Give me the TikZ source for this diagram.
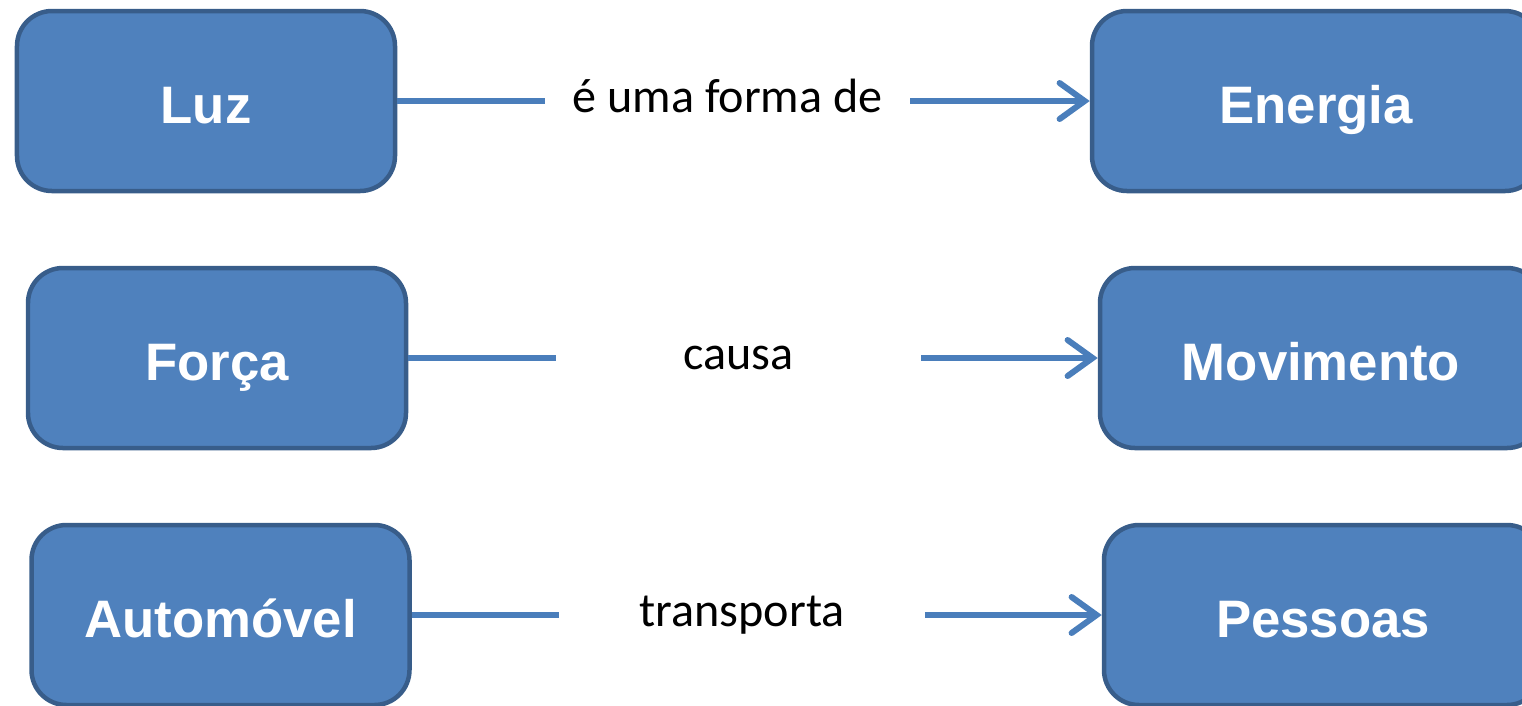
\documentclass[tikz,border=0pt]{standalone}
\usepackage{fontspec}
\setmainfont{Liberation Sans}
\newfontfamily\labelfont{Carlito}
\usetikzlibrary{arrows.meta}
\definecolor{boxfill}{HTML}{4F81BD}
\definecolor{boxline}{HTML}{385D8A}
\definecolor{linkcol}{HTML}{4A7EBB}

\begin{document}
\begin{tikzpicture}[>={Straight Barb[length=0.5cm,width=0.72cm,line cap=round]}]
	\tikzset{
		concept/.style={rectangle,rounded corners=0.7cm,draw=boxline,fill=boxfill,line width=0.09cm,
			minimum height=3.6cm,text height=0.88cm,text depth=0cm,text=white,
			font=\fontsize{30}{36}\selectfont\bfseries},
		verb/.style={minimum width=7.3cm,inner sep=0pt,text height=0.44cm,text depth=0cm,
			font=\labelfont\fontsize{27.4}{32}\selectfont},
		link/.style={draw=linkcol,line width=0.12cm}
	}
	\useasboundingbox (0,0) rectangle (30.44,-14.1);
	\node[concept,minimum width=7.56cm] (luz) at (4.12,-2.02) {Luz};
	\node[concept,minimum width=8.96cm] (energia) at (26.32,-2.02) {Energia};
	\node[concept,minimum width=7.56cm] (forca) at (4.34,-7.16) {Força};
	\node[concept,minimum width=8.84cm] (movimento) at (26.42,-7.16) {Movimento};
	\node[concept,minimum width=7.56cm] (automovel) at (4.41,-12.3) {Automóvel};
	\node[concept,minimum width=8.76cm] (pessoas) at (26.46,-12.3) {Pessoas};

	\node[verb] (forma) at (14.55,-2.02) {é uma forma de};
	\node[verb] (causa) at (14.77,-7.16) {causa};
	\node[verb] (transporta) at (14.84,-12.3) {transporta};

	\draw[link] (luz.east) -- (forma.west);
	\draw[link,->] (forma.east) -- (energia.west);
	\draw[link] (forca.east) -- (causa.west);
	\draw[link,->] (causa.east) -- (movimento.west);
	\draw[link] (automovel.east) -- (transporta.west);
	\draw[link,->] (transporta.east) -- (pessoas.west);
\end{tikzpicture}
\end{document}
